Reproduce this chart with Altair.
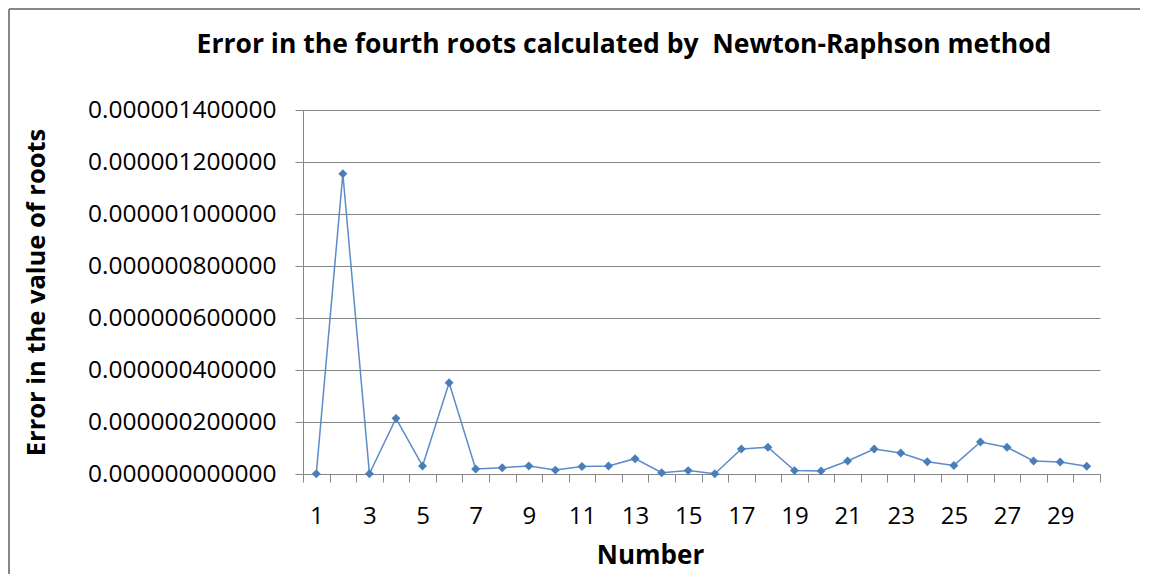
import altair as alt
import pandas as pd

numbers = list(range(1, 31))
errors_e9 = [0.5, 1155, 1, 214, 31, 351, 19, 24, 31, 15,
             29, 31, 59, 5, 13, 1, 96, 103, 13, 12,
             50, 96, 81, 47, 33, 123, 103, 50, 46, 30]
errors = [v * 1e-9 for v in errors_e9]
y_ticks = [0, 2e-7, 4e-7, 6e-7, 8e-7, 1e-6, 1.2e-6, 1.4e-6]
title_text = "Error in the fourth roots calculated by\u00a0 Newton-Raphson method"

df = pd.DataFrame({"Number": numbers, "Error": errors})

FONT = "Open Sans"
GRAY = "#868686"
BLUE = "#4A7EBB"

x_enc = alt.X("Number:O", scale=alt.Scale(paddingInner=0, paddingOuter=0),
              axis=alt.Axis(title="Number", labelAngle=0, tickBand="extent",
                            labelExpr="datum.value % 2 == 1 ? datum.label : ''",
                            labelFont=FONT, labelFontSize=24, labelColor="#000000",
                            labelPadding=22, tickSize=8, tickColor=GRAY,
                            domainColor=GRAY, grid=False,
                            titleFont=FONT, titleFontSize=26, titleFontWeight="bold",
                            titleColor="#000000", titlePadding=14, titleX=347))
y_enc = alt.Y("Error:Q", scale=alt.Scale(domain=[0, 1.4e-6], nice=False),
              axis=alt.Axis(title="Error in the value of roots", values=y_ticks,
                            format=".12f", labelFont=FONT, labelFontSize=24.5,
                            labelLimit=400,
                            labelColor="#000000", labelPadding=19, tickSize=8,
                            tickColor=GRAY, domainColor=GRAY, gridColor=GRAY,
                            titleFont=FONT, titleFontSize=25.5, titleFontWeight="bold",
                            titleColor="#000000", titlePadding=54, titleY=182))

base = alt.Chart(df)
line = base.mark_line(color="#5B8BC9", strokeWidth=1.5).encode(x=x_enc, y=y_enc)
pts = base.mark_point(shape="diamond", filled=True, color=BLUE, size=80, opacity=1).encode(
    x="Number:O", y="Error:Q")

title_mark = alt.Chart(pd.DataFrame({"t": [title_text]})).mark_text(
    font=FONT, fontSize=26.5, fontWeight="bold", color="#000000",
    align="center", baseline="alphabetic").encode(
    text="t:N", x=alt.value(321), y=alt.value(-57))

border_top = alt.Chart(df).mark_rule(color=GRAY, strokeWidth=2).encode(
    x=alt.value(-294), x2=alt.value(837), y=alt.value(-101))
border_left = alt.Chart(df).mark_rule(color=GRAY, strokeWidth=2).encode(
    x=alt.value(-294), y=alt.value(-101), y2=alt.value(464))

chart = alt.layer(line, pts, title_mark, border_top, border_left).properties(
    width=797, height=364,
    autosize=alt.AutoSizeParams(type="none"),
    padding={"left": 295, "top": 102, "right": 40, "bottom": 100},
).configure_view(stroke=None)

chart.save("out.html", embed_options={"renderer": "svg", "actions": False})
